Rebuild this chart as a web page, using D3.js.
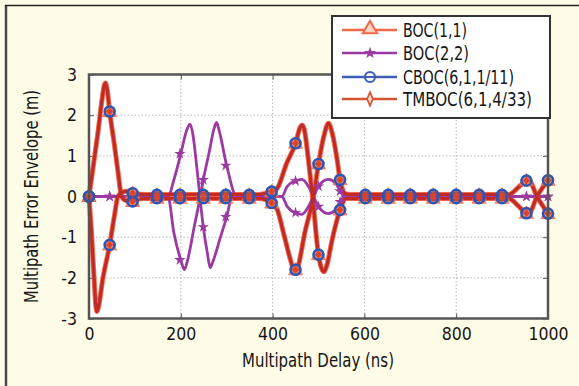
<!DOCTYPE html>
<html>
<head>
<meta charset="utf-8">
<script src="https://cdn.jsdelivr.net/npm/d3@7/dist/d3.min.js"></script>
<style>
  body { margin: 0; background: #fefbe7; }
  svg text { font-family: "DejaVu Sans Condensed", "Liberation Sans Narrow", sans-serif; fill: #151515; }
</style>
</head>
<body>
<svg id="chart" width="579" height="386"></svg>
<script>
// ---- data: [delay (ns), error (m)] ----
// BOC(1,1), CBOC and TMBOC practically coincide at this scale
var envUpper = [[0,0],[10,0.8],[20,1.62],[28,2.35],[33,2.72],[36,2.79],[40,2.6],[45,2.09],[55,1.3],[63,0.62],[71,0],
  [78,-0.09],[88,-0.12],[98,-0.1],[108,-0.06],[120,-0.05],[250,-0.05],[370,-0.05],[385,-0.08],[398,-0.16],[410,-0.32],
  [425,-0.95],[440,-1.6],[449,-1.88],[456,-1.7],[470,-0.9],[489,0],[500,0.8],[512,1.5],[522,1.8],[530,1.55],[540,0.95],
  [547,0.41],[558,0.07],[570,0.05],[750,0.05],[915,0.05],[935,0.22],[953,0.39],[958,0.4],[976,0],[1000,-0.42]];
var envLower = [[0,0],[5,-0.8],[11,-2.0],[15,-2.7],[17,-2.83],[20,-2.75],[30,-2.03],[45,-1.19],[55,-0.5],[63,0],
  [72,0.1],[84,0.13],[95,0.08],[105,0.06],[120,0.05],[250,0.05],[370,0.05],[385,0.08],[398,0.12],[410,0.2],[430,0.8],
  [450,1.31],[460,1.7],[464,1.76],[469,1.65],[478,0.9],[487,0],[500,-1.43],[507,-1.78],[512,-1.85],[518,-1.7],
  [530,-1.05],[547,-0.33],[560,-0.05],[750,-0.05],[915,-0.05],[935,-0.23],[953,-0.41],[958,-0.42],[976,0],[1000,0.4]];

var boc22A = [[0,0],[172,0],[186,0.45],[200,1.05],[212,1.6],[220,1.78],[226,1.55],[236,0.6],[249,-0.75],[258,-1.4],
  [264,-1.75],[270,-1.6],[285,-1.05],[300,-0.5],[312,0],[420,0],[432,0.25],[448,0.38],[464,0.42],[478,0.25],[489,0],
  [502,-0.28],[521,-0.42],[538,-0.32],[548,-0.12],[556,0],[1000,0]];
var boc22B = [[0,0],[172,0],[185,-0.9],[200,-1.56],[208,-1.8],[214,-1.6],[230,-0.7],[240,-0.15],[249,0.41],[262,1.1],
  [272,1.65],[278,1.82],[284,1.6],[300,0.76],[322,0],[420,0],[432,-0.25],[448,-0.4],[464,-0.44],[478,-0.25],[489,0],
  [502,0.28],[521,0.42],[538,0.32],[548,0.12],[556,0],[1000,0]];

// markers
var markDelays = [0,45,95,148,198,249,298,349,398,450,500,547,602,652,700,750,800,850,900,953,1000];
var markUpper  = [0,2.09,-0.12,-0.04,-0.04,-0.04,-0.04,-0.04,-0.16,-1.8,0.8,0.41,0.04,0.04,0.04,0.04,0.04,0.04,0.04,0.39,-0.42];
var markLower  = [0,-1.19,0.08,0.04,0.04,0.04,0.04,0.04,0.12,1.31,-1.43,-0.33,-0.04,-0.04,-0.04,-0.04,-0.04,-0.04,-0.04,-0.41,0.4];
var boc22MarkA = [0,0,0,0,1.05,-0.75,-0.5,0,0,0.38,-0.25,-0.13,0,0,0,0,0,0,0,0,0];
var boc22MarkB = [0,0,0,0,-1.56,0.41,0.76,0,0,-0.4,0.25,0.13,0,0,0,0,0,0,0,0,0];

var xTicks = [0,200,400,600,800,1000];
var yTicks = [-3,-2,-1,0,1,2,3];
var legendNames = ["BOC(1,1)","BOC(2,2)","CBOC(6,1,1/11)","TMBOC(6,1,4/33)"];
var legendWidths = [64, 66, 111, 129];

var colBoc11 = "#f2694a", colBoc22 = "#9b3aa0", colCboc = "#2f55b0", colTmboc = "#c42a22";

var svg = d3.select("#chart");

// outer frame (left and top edges only)
svg.append("line").attr("x1", 6).attr("y1", 5).attr("x2", 6).attr("y2", 386)
  .attr("stroke", "#4a4a4a").attr("stroke-width", 2.5);
svg.append("line").attr("x1", 5).attr("y1", 5.5).attr("x2", 579).attr("y2", 5.5)
  .attr("stroke", "#222").attr("stroke-width", 1.5);

var x = d3.scaleLinear().domain([0, 1000]).range([89, 548]);
var y = d3.scaleLinear().domain([-3, 3]).range([318.5, 74.5]);

// plot area
svg.append("rect").attr("x", x(0)).attr("y", y(3)).attr("width", x(1000) - x(0)).attr("height", y(-3) - y(3))
  .attr("fill", "#fff");

// grid
svg.append("g").selectAll("line").data(xTicks.slice(1, -1)).enter().append("line")
  .attr("x1", d => x(d)).attr("x2", d => x(d)).attr("y1", y(3)).attr("y2", y(-3))
  .attr("stroke", "#b8b8b8").attr("stroke-dasharray", "1.5,2");
svg.append("g").selectAll("line").data(yTicks.slice(1, -1)).enter().append("line")
  .attr("y1", d => y(d)).attr("y2", d => y(d)).attr("x1", x(0)).attr("x2", x(1000))
  .attr("stroke", "#b8b8b8").attr("stroke-dasharray", "1.5,2");

// axes with inside ticks
var fmt = d => String(d);   // plain hyphen minus like the original
svg.append("g").attr("transform", "translate(0," + y(-3) + ")")
  .call(d3.axisBottom(x).tickValues(xTicks).tickSize(-5).tickPadding(9).tickFormat(fmt))
  .call(g => { g.select(".domain").remove(); g.selectAll("line").attr("stroke", "#555"); });
svg.append("g").attr("transform", "translate(0," + y(3) + ")")
  .call(d3.axisTop(x).tickValues(xTicks).tickSize(-5).tickFormat(""))
  .call(g => { g.select(".domain").remove(); g.selectAll("line").attr("stroke", "#555"); });
svg.append("g").attr("transform", "translate(" + x(0) + ",0)")
  .call(d3.axisLeft(y).tickValues(yTicks).tickSize(-5).tickPadding(12).tickFormat(fmt))
  .call(g => { g.select(".domain").remove(); g.selectAll("line").attr("stroke", "#555"); });
svg.append("g").attr("transform", "translate(" + x(1000) + ",0)")
  .call(d3.axisRight(y).tickValues(yTicks).tickSize(-5).tickFormat(""))
  .call(g => { g.select(".domain").remove(); g.selectAll("line").attr("stroke", "#555"); });
svg.selectAll(".tick text").attr("font-size", 17.5).attr("font-family", null).attr("fill", "#151515");

// curves
var line = d3.line().x(d => x(d[0])).y(d => y(d[1])).curve(d3.curveMonotoneX);
var plot = svg.append("g");
function drawLine(data, color, w) {
  plot.append("path").datum(data).attr("d", line).attr("fill", "none")
    .attr("stroke", color).attr("stroke-width", w).attr("stroke-linejoin", "round");
}
drawLine(envUpper, colBoc11, 5); drawLine(envLower, colBoc11, 5);
drawLine(boc22A, colBoc22, 2.8); drawLine(boc22B, colBoc22, 2.8);
drawLine(envUpper, colCboc, 2.5); drawLine(envLower, colCboc, 2.5);
drawLine(envUpper, colTmboc, 3); drawLine(envLower, colTmboc, 3);

function pts(vals) { return markDelays.map((d, i) => [d, vals[i]]); }
var tri = d3.symbol().type(d3.symbolTriangle).size(85);
var star = d3.symbol().type(d3.symbolStar).size(40);
var dia = d3.symbol().type(d3.symbolDiamond).size(28);

[markUpper, markLower].forEach(function(v) {
  plot.append("g").selectAll("path").data(pts(v)).enter().append("path")
    .attr("d", tri).attr("transform", d => "translate(" + x(d[0]) + "," + (y(d[1]) + 1) + ")")
    .attr("fill", "#f6906e").attr("stroke", colBoc11).attr("stroke-width", 1).attr("opacity", 0.9);
});
[boc22MarkA, boc22MarkB].forEach(function(v) {
  plot.append("g").selectAll("path").data(pts(v)).enter().append("path")
    .attr("d", star).attr("transform", d => "translate(" + x(d[0]) + "," + y(d[1]) + ")")
    .attr("fill", colBoc22);
});
[markUpper, markLower].forEach(function(v) {
  plot.append("g").selectAll("circle").data(pts(v)).enter().append("circle")
    .attr("cx", d => x(d[0])).attr("cy", d => y(d[1])).attr("r", 5)
    .attr("fill", "none").attr("stroke", colCboc).attr("stroke-width", 2.6);
});
[markUpper, markLower].forEach(function(v) {
  plot.append("g").selectAll("path").data(pts(v)).enter().append("path")
    .attr("d", dia).attr("transform", d => "translate(" + x(d[0]) + "," + y(d[1]) + ") scale(1.3,0.8)")
    .attr("fill", "#d8452c");
});

// plot border
svg.append("rect").attr("x", x(0)).attr("y", y(3)).attr("width", x(1000) - x(0)).attr("height", y(-3) - y(3))
  .attr("fill", "none").attr("stroke", "#555").attr("stroke-width", 2.5);

// axis titles
svg.append("text").attr("x", 318).attr("y", 367).attr("text-anchor", "middle")
  .attr("font-size", 19).attr("textLength", 152).attr("lengthAdjust", "spacingAndGlyphs")
  .text("Multipath Delay (ns)");
svg.append("text").attr("transform", "translate(38,196.5) rotate(-90)").attr("text-anchor", "middle")
  .attr("font-size", 19).attr("textLength", 213).attr("lengthAdjust", "spacingAndGlyphs")
  .text("Multipath Error Envelope (m)");

// legend
var lg = svg.append("g");
lg.append("rect").attr("x", 332).attr("y", 16).attr("width", 218).attr("height", 102)
  .attr("fill", "#fff").attr("stroke", "#333").attr("stroke-width", 2);
var legCols = ["#f2694a", colBoc22, "#3d5fb8", "#d4552e"];
var rowY = [30, 53, 77, 99];
legendNames.forEach(function(name, i) {
  var ry = rowY[i];
  lg.append("line").attr("x1", 342).attr("x2", 397).attr("y1", ry).attr("y2", ry)
    .attr("stroke", legCols[i]).attr("stroke-width", 2.5);
  if (i == 0) lg.append("path").attr("d", d3.symbol().type(d3.symbolTriangle).size(90))
    .attr("transform", "translate(370," + (ry - 1) + ")").attr("fill", "#fbd2c2").attr("stroke", legCols[i]).attr("stroke-width", 2);
  if (i == 1) lg.append("path").attr("d", d3.symbol().type(d3.symbolStar).size(45))
    .attr("transform", "translate(370," + ry + ")").attr("fill", legCols[i]);
  if (i == 2) lg.append("circle").attr("cx", 370).attr("cy", ry).attr("r", 5)
    .attr("fill", "#fff").attr("stroke", legCols[i]).attr("stroke-width", 2.2);
  if (i == 2) lg.append("line").attr("x1", 366).attr("x2", 374).attr("y1", ry).attr("y2", ry)
    .attr("stroke", legCols[i]).attr("stroke-width", 2);
  if (i == 3) lg.append("path").attr("d", d3.symbol().type(d3.symbolDiamond).size(45))
    .attr("transform", "translate(370," + ry + ") scale(0.8,1.1)").attr("fill", "#fbe0d4").attr("stroke", legCols[i]).attr("stroke-width", 2);
  lg.append("text").attr("x", 403).attr("y", ry).attr("dy", "0.36em").attr("font-size", 19.5)
    .attr("textLength", legendWidths[i]).attr("lengthAdjust", "spacingAndGlyphs").text(name);
});
</script>
</body>
</html>
